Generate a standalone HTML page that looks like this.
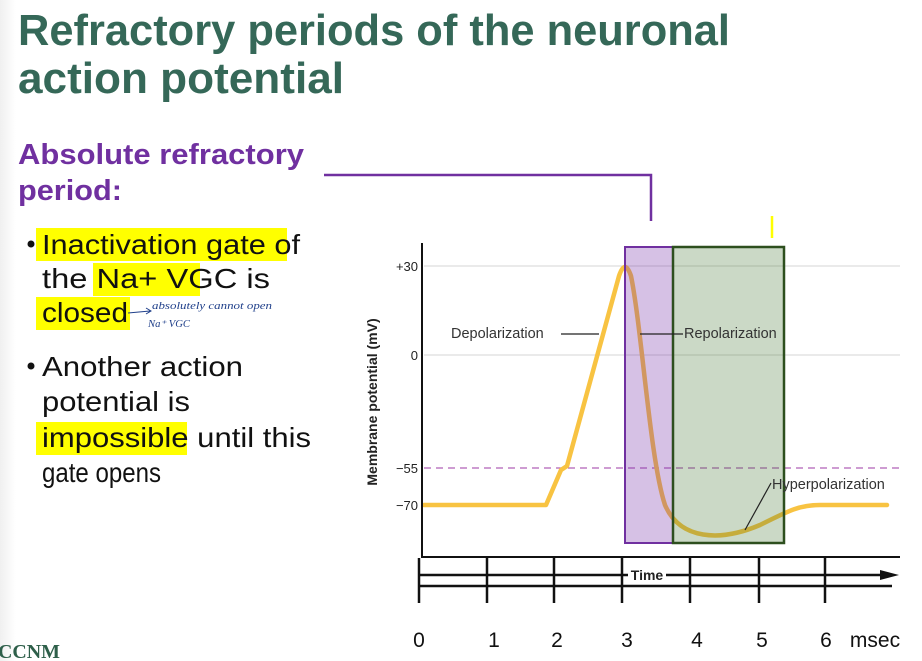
<!DOCTYPE html>
<html><head><meta charset="utf-8"><style>
html,body{margin:0;padding:0;background:#fff;}
svg{display:block;}
</style></head><body>
<svg width="922" height="661" viewBox="0 0 922 661" xmlns="http://www.w3.org/2000/svg">
<defs><linearGradient id="lg" x1="0" x2="1"><stop offset="0" stop-color="#f0f0f0"/><stop offset="1" stop-color="#fff"/></linearGradient></defs>
<rect x="0" y="0" width="922" height="661" fill="#fff"/>
<rect x="0" y="0" width="16" height="661" fill="url(#lg)"/>
<g font-family="Liberation Sans, sans-serif" font-weight="bold" fill="#356858" font-size="44">
<text x="18" y="45" textLength="712" lengthAdjust="spacingAndGlyphs">Refractory periods of the neuronal</text>
<text x="18" y="93" textLength="326" lengthAdjust="spacingAndGlyphs">action potential</text>
</g>
<g font-family="Liberation Sans, sans-serif" font-weight="bold" fill="#7030a0" font-size="29">
<text x="18" y="164" textLength="286" lengthAdjust="spacingAndGlyphs">Absolute refractory</text>
<text x="18" y="200" textLength="104" lengthAdjust="spacingAndGlyphs">period:</text>
</g>
<polyline points="324,175 651,175 651,221" fill="none" stroke="#7030a0" stroke-width="2.5"/>
<line x1="772" y1="216" x2="772" y2="238" stroke="#ffff00" stroke-width="2.5"/>
<g fill="#ffff00">
<rect x="36" y="228" width="251" height="33"/>
<rect x="93" y="263" width="107" height="33"/>
<rect x="36" y="297" width="94" height="33"/>
<rect x="36" y="422" width="151" height="33"/>
</g>
<g font-family="Liberation Sans, sans-serif" fill="#111" font-size="27.5">
<circle cx="31" cy="244" r="3.5" fill="#111"/>
<text x="42" y="254" textLength="258" lengthAdjust="spacingAndGlyphs">Inactivation gate of</text>
<text x="42" y="288" textLength="228" lengthAdjust="spacingAndGlyphs">the Na+ VGC is</text>
<text x="42" y="322" textLength="86" lengthAdjust="spacingAndGlyphs">closed</text>
<circle cx="31" cy="366" r="3.5" fill="#111"/>
<text x="42" y="376" textLength="201" lengthAdjust="spacingAndGlyphs">Another action</text>
<text x="42" y="411" textLength="148" lengthAdjust="spacingAndGlyphs">potential is</text>
<text x="42" y="447" textLength="269" lengthAdjust="spacingAndGlyphs">impossible until this</text>
<text x="42" y="482" textLength="119" lengthAdjust="spacingAndGlyphs">gate opens</text>
</g>
<g fill="none" stroke="#1f3f8a" stroke-width="1">
<path d="M128,313 L150,311 M146,308 L151,311 L146,314"/>
</g>
<g font-family="Liberation Serif, serif" font-style="italic" fill="#1f3f8a" font-size="10">
<text x="152" y="309" textLength="120" lengthAdjust="spacingAndGlyphs">absolutely cannot open</text>
<text x="148" y="327" textLength="42" lengthAdjust="spacingAndGlyphs">Na⁺ VGC</text>
</g>
<text x="-2" y="658" font-family="Liberation Serif, serif" font-weight="bold" font-size="20" fill="#2e5f4a" textLength="62" lengthAdjust="spacingAndGlyphs">CCNM</text>
<line x1="424" y1="266" x2="900" y2="266" stroke="#ddd" stroke-width="1.2"/>
<line x1="424" y1="355" x2="900" y2="355" stroke="#ddd" stroke-width="1.2"/>
<line x1="424" y1="468" x2="900" y2="468" stroke="#b060b8" stroke-width="1.3" stroke-dasharray="7,5"/>
<path d="M424,505 L546,505 L561,470 L567,466 L619,276 Q625,258 631,276 C642,330 650,460 665,505 C680,540 720,542 760,525 C790,510 800,505 820,505 L887,505" fill="none" stroke="#f8c342" stroke-width="4.5" stroke-linejoin="round" stroke-linecap="round"/>
<rect x="625" y="247" width="48" height="296" fill="rgba(120,50,170,0.3)" stroke="#7030a0" stroke-width="2"/>
<rect x="673" y="247" width="111" height="296" fill="rgba(70,120,50,0.28)" stroke="#2d4f1e" stroke-width="2.5"/>
<line x1="422" y1="243" x2="422" y2="558" stroke="#111" stroke-width="2"/>
<line x1="421" y1="557" x2="900" y2="557" stroke="#111" stroke-width="2"/>
<g font-family="Liberation Sans, sans-serif" font-size="13" fill="#222" text-anchor="end">
<text x="418" y="271">+30</text>
<text x="418" y="360">0</text>
<text x="418" y="473">−55</text>
<text x="418" y="510">−70</text>
</g>
<text transform="translate(377,402) rotate(-90)" font-family="Liberation Sans, sans-serif" font-weight="bold" font-size="14" fill="#222" text-anchor="middle">Membrane potential (mV)</text>
<g font-family="Liberation Sans, sans-serif" font-size="14.5" fill="#333">
<text x="451" y="338">Depolarization</text>
<text x="684" y="338">Repolarization</text>
<text x="772" y="489">Hyperpolarization</text>
</g>
<g stroke="#222" stroke-width="1.2">
<line x1="561" y1="334" x2="599" y2="334"/>
<line x1="640" y1="334" x2="683" y2="334"/>
<line x1="771" y1="483" x2="745" y2="530"/>
</g>
<g stroke="#111" stroke-width="2.5">
<line x1="419" y1="575" x2="628" y2="575"/>
<line x1="666" y1="575" x2="884" y2="575"/>
<line x1="419" y1="586" x2="892" y2="586"/>
<line x1="419" y1="558" x2="419" y2="603"/>
<line x1="487" y1="558" x2="487" y2="603"/>
<line x1="554" y1="558" x2="554" y2="603"/>
<line x1="622" y1="558" x2="622" y2="603"/>
<line x1="690" y1="558" x2="690" y2="603"/>
<line x1="759" y1="558" x2="759" y2="603"/>
<line x1="825" y1="558" x2="825" y2="603"/>
</g>
<polygon points="880,570 899,575 880,580" fill="#111"/>
<text x="647" y="580" font-family="Liberation Sans, sans-serif" font-weight="bold" font-size="14" fill="#222" text-anchor="middle">Time</text>
<g font-family="Liberation Sans, sans-serif" font-size="21" fill="#111" text-anchor="middle">
<text x="419" y="647">0</text>
<text x="494" y="647">1</text>
<text x="557" y="647">2</text>
<text x="627" y="647">3</text>
<text x="697" y="647">4</text>
<text x="762" y="647">5</text>
<text x="826" y="647">6</text>
<text x="875" y="647">msec</text>
</g>
</svg>
</body></html>
